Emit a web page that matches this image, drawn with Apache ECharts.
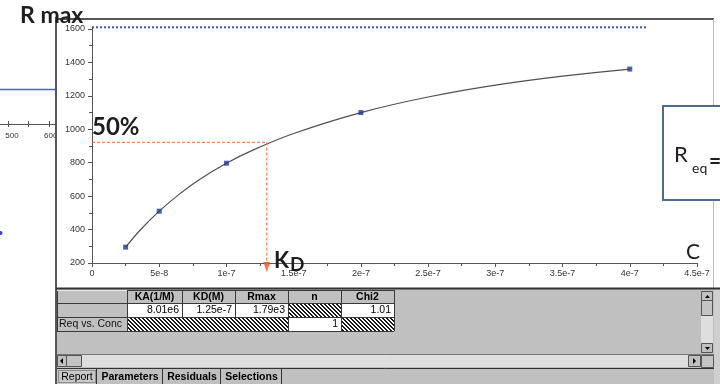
<!DOCTYPE html>
<html><head><meta charset="utf-8">
<script src="https://cdn.jsdelivr.net/npm/echarts@6/dist/echarts.min.js"></script>
<style>html,body{margin:0;padding:0;background:#fff;overflow:hidden}#c{width:720px;height:384px}</style>
</head><body><div id="c"></div>
<script>
// ---- data ----
const concentrations = [2.5e-8, 5e-8, 1e-7, 2e-7, 4e-7];
const responses = [295, 510, 797, 1100, 1360];
// fitted curve
const fitX = [2.5e-8, 3.5e-8, 5e-8, 6.5e-8, 8e-8, 1e-7, 1.2e-7, 1.5e-7, 2e-7, 2.5e-7, 3e-7, 3.5e-7, 4e-7];
const fitY = [295, 390, 510, 612, 700, 797, 877, 975, 1100, 1193, 1264, 1318, 1360];
const xTickLabels = ['0','5e-8','1e-7','1.5e-7','2e-7','2.5e-7','3e-7','3.5e-7','4e-7','4.5e-7'];
const yTickValues = [200, 400, 600, 800, 1000, 1200, 1400, 1600];
const rmaxLevel = 1610;
const rmaxLineEnd = 4.13e-7;
const halfLevel = 922;
const kdGuide = 1.3e-7;
const arrowLevel = 176;
const tableHeaders = ['', 'KA(1/M)', 'KD(M)', 'Rmax', 'n', 'Chi2'];
const tableRow1 = ['', '8.01e6', '1.25e-7', '1.79e3', null, '1.01'];
const tableRow2 = ['Req vs. Conc', null, null, null, '1', null];
const tabNames = ['Report', 'Parameters', 'Residuals', 'Selections'];
const sideTickLabels = ['500', '600'];

// ---- helpers ----
function hatchCanvas(){
  const c = document.createElement('canvas'); c.width = 4; c.height = 4;
  const g = c.getContext('2d'); g.fillStyle = '#ffffff'; g.fillRect(0,0,4,4);
  g.fillStyle = '#1a1a1a';
  for (let i=0;i<4;i++){ g.fillRect(i,i,1,1); g.fillRect((i+1)%4,i,1,1); }
  return c;
}
const HATCH = {image: hatchCanvas(), repeat: 'repeat'};
const G = [];
function rect(x,y,w,h,fill,stroke,lw,z){ G.push({type:'rect',silent:true,z:z||10,shape:{x:x,y:y,width:w,height:h},style:{fill:fill||'none',stroke:stroke||null,lineWidth:lw||1}}); }
function line(x1,y1,x2,y2,stroke,lw,z,dash){ G.push({type:'line',silent:true,z:z||11,shape:{x1:x1,y1:y1,x2:x2,y2:y2},style:{stroke:stroke,lineWidth:lw||1,lineDash:dash||null}}); }
function text(x,y,t,o){ o=o||{}; G.push({type:'text',silent:true,z:o.z||20,x:x,y:y,style:{text:t,fill:o.fill||'#000',fontSize:o.size||10,fontWeight:o.weight||'normal',fontFamily:o.family||'Liberation Sans, Arial, sans-serif',align:o.align||'left',verticalAlign:'middle'}}); }
function poly(pts,fill,z){ G.push({type:'polygon',silent:true,z:z||12,shape:{points:pts},style:{fill:fill}}); }

// left partial chart strip
line(0,89.5,56,89.5,'#4a5ee8',1.3,5);
line(0,124.5,56,124.5,'#555',1,5);
[8,28,49].forEach(x=>line(x+0.5,121,x+0.5,127,'#555',1,5));
text(12,136,sideTickLabels[0],{size:8,align:'center',fill:'#333'});
text(44,136,sideTickLabels[1],{size:8,fill:'#333',z:6});
G.push({type:'circle',silent:true,z:5,shape:{cx:0.5,cy:233,r:2},style:{fill:'#3346c8'}});
rect(57,128,6,14,'#fff',null,1,7);

// chart window frame
line(56,19,714,19,'#555',2,30);
line(56,17,56,384,'#555',2,30);
line(713.5,19,713.5,288,'#bbbbbb',1,30);

// bottom panel
rect(57,288,663,96,'#c0c0c0',null,1,40);
line(56,288.5,720,288.5,'#333',2,41);
rect(714,288,6,96,'#cfcfcf',null,1,40);
const cols=[57,127,182,235,288,341,394], rows=[290,303,317,331];
const rowsData=[tableHeaders,tableRow1,tableRow2];
for(let r=0;r<3;r++){
  for(let c=0;c<6;c++){
    const x=cols[c], y=rows[r], w=cols[c+1]-x, h=rows[r+1]-y;
    const v=rowsData[r][c];
    let fill='#c0c0c0';
    if(r>0 && c>0) fill = (v===null)? HATCH : '#ffffff';
    rect(x,y,w,h,fill,null,1,42);
    if(r===0 && v){ text(x+w/2,y+h/2+0.5,v,{size:10.5,weight:'bold',align:'center',z:45}); }
    else if(r>0 && c>0 && v){ text(x+w-3,y+h/2+0.5,v,{size:10.5,align:'right',z:45}); }
    else if(c===0 && v){ text(x+2,y+h/2+0.5,v,{size:10.5,align:'left',z:45,fill:'#111'}); }
  }
}
rows.forEach(y=>line(57,y+0.5,394,y+0.5,'#3a3a3a',1,44));
cols.forEach((x,i)=>{
  line(x+0.5,290,x+0.5,317,'#3a3a3a',1,44);
  if(i===0||i===1||i>=4) line(x+0.5,317,x+0.5,331,'#3a3a3a',1,44);
});
line(57,290.5,127,290.5,'#e8e8e8',1,44);
// horizontal scrollbar
rect(82,355,606,12,'#dedede',null,1,42);
rect(57.5,355.5,9,11,'#c0c0c0','#555',1,43);
poly([[63,358],[63,364],[60,361]],'#000',44);
rect(66.5,355.5,15,11,'#c4c4c4','#555',1,43);
rect(688.5,355.5,12,11,'#c0c0c0','#555',1,43);
poly([[693,358],[693,364],[696,361]],'#000',44);
rect(701.5,355.5,12,12,'#c4c4c4','#555',1,43);
line(57,354.5,714,354.5,'#777',1,44);
// vertical scrollbar
rect(701,316,12,27,'#dedede',null,1,42);
rect(701.5,291.5,11,9,'#c0c0c0','#555',1,43);
poly([[705,298],[710,298],[707.5,295]],'#000',44);
rect(701.5,300.5,11,15,'#c4c4c4','#555',1,43);
rect(701.5,343.5,11,9,'#c0c0c0','#555',1,43);
poly([[705,347],[710,347],[707.5,350]],'#000',44);
// tabs
line(57,368.5,714,368.5,'#333',1,44);
const tabEdges=[57,97,163,221,282];
for(let i=0;i<4;i++){
  const x=tabEdges[i], w=tabEdges[i+1]-x;
  rect(x,369,w,15,i===0?'#c8c8c8':'#c0c0c0',null,1,42);
  line(tabEdges[i+1]-0.5,369,tabEdges[i+1]-0.5,384,'#333',1,44);
  text(x+w/2,377,tabNames[i],{size:10.5,weight:i===0?'normal':'bold',align:'center',z:45});
}
rect(58.5,370.5,37,12,'none','#555',1,44);
G[G.length-1].style.lineDash=[1,1];

// annotations
text(20,16,'R max',{size:23,weight:'bold',family:'Lato, sans-serif',fill:'#1e1e1e',z:50});
text(92,127,'50%',{size:24,weight:'bold',family:'Lato, sans-serif',fill:'#1e1e1e',z:50});
text(274,261,'K',{size:22,weight:'bold',family:'Lato, sans-serif',fill:'#1e1e1e',z:50});
text(290,265,'D',{size:19,weight:'bold',family:'Lato, sans-serif',fill:'#1e1e1e',z:50});
text(686,252,'C',{size:21,family:'Lato, sans-serif',fill:'#1e1e1e',z:50});
rect(663,106,62,94,'#ffffff','#4f6a8f',2,50);
text(674,155,'R',{size:22,family:'Lato, sans-serif',fill:'#1e1e1e',z:51});
text(692,168,'eq',{size:14,family:'Lato, sans-serif',fill:'#1e1e1e',z:51});
text(709,161,'=',{size:21,weight:'bold',family:'Lato, sans-serif',fill:'#1e1e1e',z:51});

const chart = echarts.init(document.getElementById('c'), null, {renderer:'canvas'});
const pts = concentrations.map((c,i)=>[c,responses[i]]);
const fitPts = fitX.map((c,i)=>[c,fitY[i]]);
const axisFont = {fontSize:9,color:'#333',fontFamily:'Liberation Sans, Arial, sans-serif'};
chart.setOption({
  animation:false,
  backgroundColor:'#ffffff',
  grid:{left:92,right:23,top:27.3,bottom:121,containLabel:false},
  xAxis:{type:'value',min:0,max:4.5e-7,interval:5e-8,
    axisLine:{show:true,lineStyle:{color:'#555',width:1}},
    axisTick:{show:true,length:4,lineStyle:{color:'#555'}},
    minorTick:{show:true,splitNumber:2,length:3,lineStyle:{color:'#555'}},
    splitLine:{show:false},
    axisLabel:Object.assign({margin:6,formatter:v=>xTickLabels[Math.round(v/5e-8)]},axisFont)},
  yAxis:{type:'value',min:200,max:rmaxLevel,interval:200,
    axisLine:{show:true,lineStyle:{color:'#555',width:1}},
    axisTick:{show:true,length:4,lineStyle:{color:'#555'},customValues:yTickValues},
    minorTick:{show:true,splitNumber:2,length:3,lineStyle:{color:'#555'}},
    splitLine:{show:false},
    axisLabel:Object.assign({margin:7,customValues:yTickValues,formatter:v=>String(Math.round(v))},axisFont)},
  series:[
    {type:'line',data:fitPts,smooth:0.2,symbol:'none',lineStyle:{color:'#505050',width:1.2},z:3},
    {type:'scatter',data:pts,symbol:'rect',symbolSize:5,itemStyle:{color:'#1f3a94'},z:5},
    {type:'line',data:[[0,rmaxLevel],[rmaxLineEnd,rmaxLevel]],symbol:'none',clip:false,lineStyle:{color:'#3a58b0',width:2,type:[2,2]},z:4},
    {type:'line',data:[[0,halfLevel],[kdGuide,halfLevel],[kdGuide,arrowLevel]],symbol:'none',clip:false,lineStyle:{color:'#f2693a',width:1,type:[3,2]},z:4},
    {type:'scatter',data:[[kdGuide,arrowLevel]],symbol:'triangle',symbolRotate:180,symbolSize:[7,10],clip:false,itemStyle:{color:'#f0561e'},z:6}
  ],
  graphic:{elements:G}
});
</script></body></html>
